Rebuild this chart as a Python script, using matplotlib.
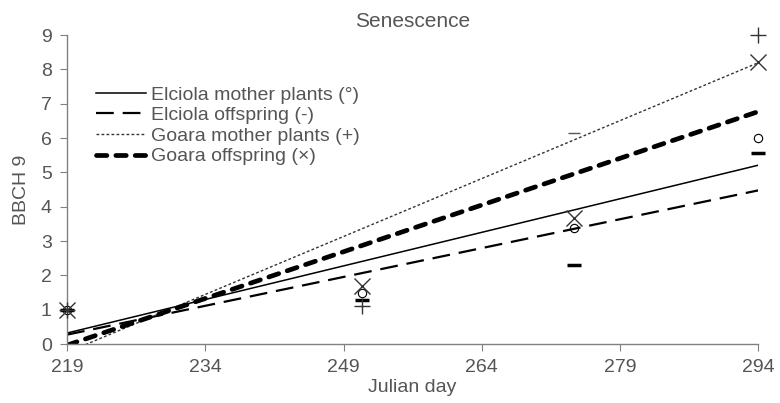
import numpy as np
import matplotlib.pyplot as plt

plt.rcParams['font.family'] = ['Liberation Sans', 'DejaVu Sans']

days = [219, 251, 274, 294]
elciola_mother = [1.0, 1.48, 3.37, 6.0]
elciola_offspring = [1.0, 1.3, 2.3, 5.58]
goara_mother = [1.0, 1.1, 6.16, 9.0]
goara_offspring = [1.0, 1.68, 3.66, 8.23]

labels = ["Elciola mother plants (°)", "Elciola offspring (-)",
          "Goara mother plants (+)", "Goara offspring (×)"]
xticks = [219, 234, 249, 264, 279, 294]

txt = '#555555'
fig = plt.figure(figsize=(7.8, 4.03), dpi=100)
ax = fig.add_axes([0.086, 0.146, 0.886, 0.767])

x = np.array(days, dtype=float)
xfit = np.array([219., 294.])

def trend(y):
    p = np.polyfit(x, y, 1)
    return np.polyval(p, xfit)

# linear trend lines
ax.plot(xfit, trend(elciola_mother), color='k', lw=1.1, label=labels[0])
ax.plot(xfit, trend(elciola_offspring), color='k', lw=1.6,
        dashes=(8, 4), label=labels[1])
ax.plot(xfit, trend(goara_mother), color='#333333', lw=1.0,
        dashes=(2, 1.6), label=labels[2])
ax.plot(xfit, trend(goara_offspring), color='k', lw=3.4,
        dashes=(2.2, 1.9), dash_capstyle='round', label=labels[3])

# observed points
kw = dict(ls='none', clip_on=False, zorder=5)
ax.plot(x, elciola_mother, marker='o', ms=6, mfc='none', mec='k', mew=0.8, **kw)
ax.plot(x, elciola_offspring, marker='_', ms=10, mec='k', mew=2.5, **kw)
# Goara mother: the day-274 point shows only as a thin bar in the figure
ax.plot(x[[0, 1, 3]], np.array(goara_mother)[[0, 1, 3]], marker='+', ms=11,
        mec='#333333', mew=1.0, **kw)
ax.plot(x[2:3], goara_mother[2:3], marker='_', ms=9, mec='#555555', mew=1.0, **kw)
ax.plot(x, goara_offspring, marker='x', ms=11, mec='#333333', mew=1.0, **kw)

ax.set_xlim(219, 294)
ax.set_ylim(0, 9)
ax.set_xticks(xticks)
ax.set_yticks(range(10))
for s in ['top', 'right']:
    ax.spines[s].set_visible(False)
for s in ['left', 'bottom']:
    ax.spines[s].set_color('#808080')
    ax.spines[s].set_linewidth(1.0)
ax.tick_params(colors='#808080', labelcolor=txt, labelsize=14, length=5, pad=6)
ax.set_title("Senescence", fontsize=15, color=txt, pad=6)
ax.set_xlabel("Julian day", fontsize=14, color=txt, labelpad=2)
ax.set_ylabel("BBCH 9", fontsize=14, color=txt, labelpad=8)

leg = ax.legend(loc='upper left', bbox_to_anchor=(0.03, 0.86), frameon=False,
                fontsize=14, handlelength=2.6, handletextpad=0.25,
                labelspacing=0.15, borderaxespad=0)
for t in leg.get_texts():
    t.set_color(txt)

fig.savefig('out.png', dpi=100)
